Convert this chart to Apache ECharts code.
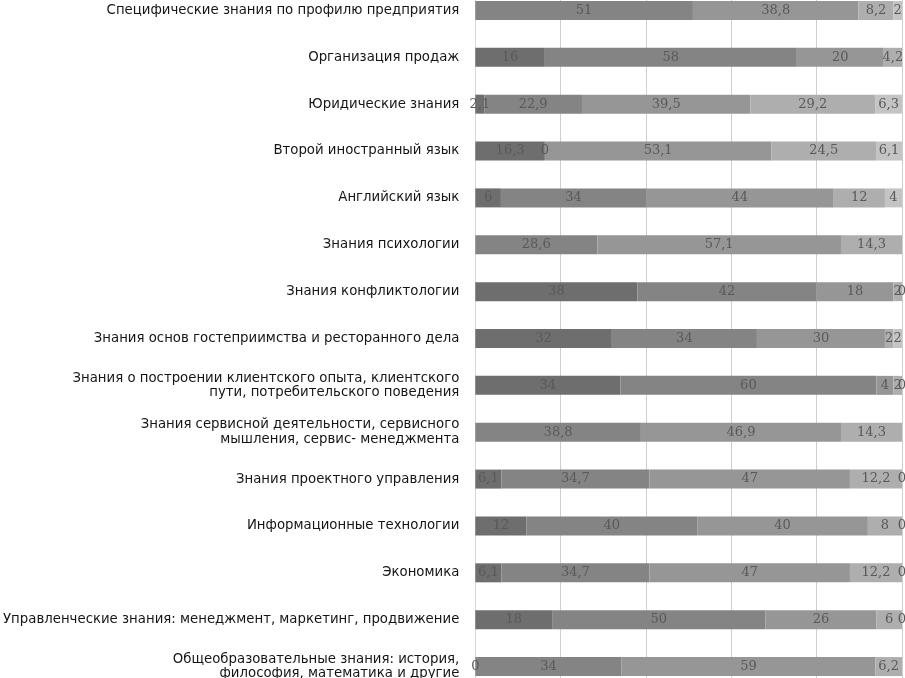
<!DOCTYPE html>
<html>
<head>
<meta charset="utf-8">
<script src="https://cdn.jsdelivr.net/npm/echarts@6/dist/echarts.min.js"></script>
<style>
html,body{margin:0;padding:0;background:#fff;overflow:hidden;width:905px;height:678px;}
#chart{width:905px;height:703px;position:absolute;left:0;top:-13px;}
</style>
</head>
<body>
<div id="chart"></div>
<script>
const categories = [
  'Специфические знания по профилю предприятия',
  'Организация продаж',
  'Юридические знания',
  'Второй иностранный язык',
  'Английский язык',
  'Знания психологии',
  'Знания конфликтологии',
  'Знания основ гостеприимства и ресторанного дела',
  'Знания о построении клиентского опыта, клиентского\nпути, потребительского поведения',
  'Знания сервисной деятельности, сервисного\nмышления, сервис- менеджмента',
  'Знания проектного управления',
  'Информационные технологии',
  'Экономика',
  'Управленческие знания: менеджмент, маркетинг, продвижение',
  'Общеобразовательные знания: история,\nфилософия, математика и другие'
];
const series1 = [null, 16, 2.1, 16.3, 6, null, 38, 32, 34, null, 6.1, 12, 6.1, 18, 0];
const series2 = [51, 58, 22.9, 0, 34, 28.6, 42, 34, 60, 38.8, 34.7, 40, 34.7, 50, 34];
const series3 = [38.8, 20, 39.5, 53.1, 44, 57.1, 18, 30, 4, 46.9, 47, 40, 47, 26, 59];
const series4 = [8.2, 4.2, 29.2, 24.5, 12, 14.3, 2, 2, 2, 14.3, 12.2, 8, 12.2, 6, 6.2];
const series5 = [2, null, 6.3, 6.1, 4, 0, 0, 2, 0, 0, 0, 0, 0, 0, null];
const xTicks = [0, 20, 40, 60, 80, 100];

const allSeries = [series1, series2, series3, series4, series5];
const colors = ['#6e6e6e', '#848484', '#969696', '#aeaeae', '#c4c4c4'];
const rowSums = categories.map((c, i) => allSeries.reduce((s, arr) => s + (arr[i] || 0), 0));

const chart = echarts.init(document.getElementById('chart'));
chart.setOption({
  animation: false,
  backgroundColor: '#fff',
  grid: { left: 474, right: 3, top: 0, bottom: 0, containLabel: false },
  xAxis: {
    type: 'value', min: xTicks[0], max: xTicks[xTicks.length - 1], interval: 20,
    axisLabel: { show: false }, axisLine: { show: false }, axisTick: { show: false },
    splitLine: { lineStyle: { color: '#cfcfcf', width: 1 } }
  },
  yAxis: {
    type: 'category', data: categories, inverse: true,
    axisLine: { show: true, lineStyle: { color: '#d8d8d8' } },
    axisTick: { show: false },
    axisLabel: { fontFamily: 'DejaVu Sans', fontSize: 13.3, color: '#151515', margin: 16, lineHeight: 14.5, align: 'right' }
  },
  series: allSeries.map((arr, k) => ({
    type: 'bar', stack: 'total', barWidth: 19,
    itemStyle: { color: colors[k] },
    label: {
      show: true, position: 'inside', fontFamily: 'DejaVu Serif', fontSize: 13, color: '#595959',
      formatter: p => (p.data && p.data.raw != null) ? String(p.data.raw).replace('.', ',') : ''
    },
    data: arr.map((v, i) => v == null ? { value: null, raw: null } : { value: v / rowSums[i] * 100, raw: v })
  }))
});
</script>
</body>
</html>
